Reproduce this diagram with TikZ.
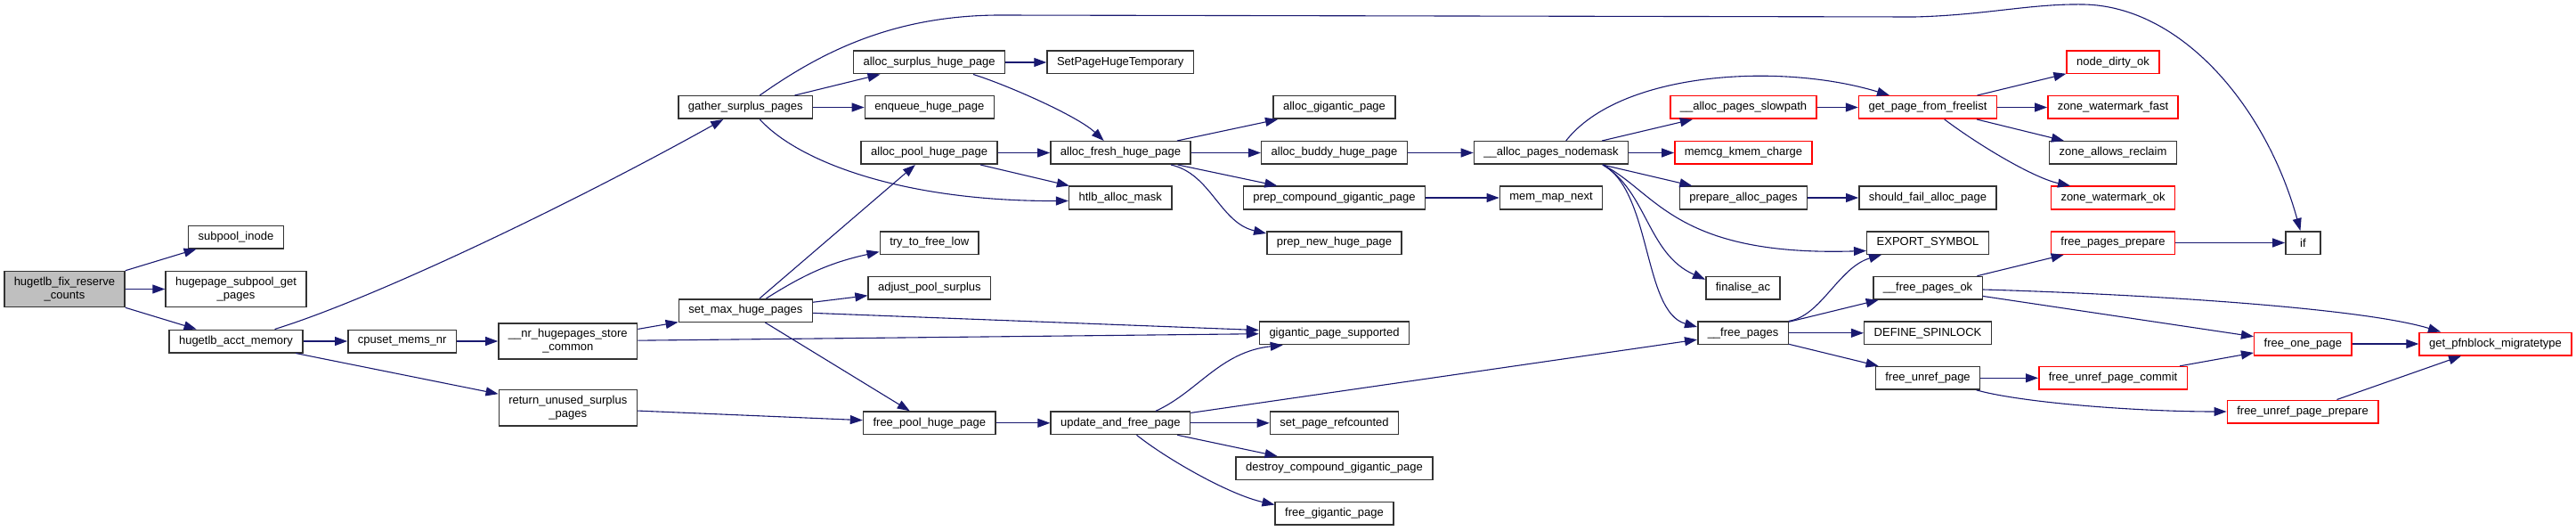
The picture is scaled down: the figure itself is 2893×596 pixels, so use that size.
\documentclass[tikz,border=0pt]{standalone}
\usepackage{fontspec}
\setmainfont{Liberation Sans}
\usetikzlibrary{arrows.meta}
\definecolor{callblue}{RGB}{25,25,112}
\definecolor{boxred}{RGB}{255,0,0}

\begin{document}
\begin{tikzpicture}[x=1pt,y=-1pt,
  fn/.style={draw=black!80,line width=1.5pt,fill=white,font=\fontsize{13}{15}\selectfont,
    align=center,inner xsep=11pt,inner ysep=6.5pt,minimum height=25.5pt,minimum width=39pt},
  fnred/.style={fn,draw=boxred},
  fnroot/.style={fn,fill=black!25},
  call/.style={draw=callblue,line width=1.1pt,-{Triangle[length=14pt,width=10pt]}}]
  \useasboundingbox (0,0) rectangle (2893,596);
  % columna 0 y 1
  \node[fnroot] (fix) at (72.5,324.5) {hugetlb\_fix\_reserve\\\_counts};
  \node[fn] (subinode) at (265,266) {subpool\_inode};
  \node[fn] (subget) at (265,324.5) {hugepage\_subpool\_get\\\_pages};
  \node[fn] (acct) at (265,383) {hugetlb\_acct\_memory};
  % columna 2 y 3
  \node[fn] (cpuset) at (451.7,383) {cpuset\_mems\_nr};
  \node[fn] (nrstore) at (637.8,383) {\_\_nr\_hugepages\_store\\\_common};
  \node[fn] (retsurplus) at (637.8,457.8) {return\_unused\_surplus\\\_pages};
  % columna 4
  \node[fn] (gather) at (837.3,120.5) {gather\_surplus\_pages};
  \node[fn] (setmax) at (837.3,348.5) {set\_max\_huge\_pages};
  % columna 5
  \node[fn] (allocsurplus) at (1043.6,70) {alloc\_surplus\_huge\_page};
  \node[fn] (enqueue) at (1043.8,120.5) {enqueue\_huge\_page};
  \node[fn] (allocpool) at (1043.6,171.5) {alloc\_pool\_huge\_page};
  \node[fn] (freelow) at (1043.7,272.5) {try\_to\_free\_low};
  \node[fn] (adjust) at (1043.9,323.2) {adjust\_pool\_surplus};
  \node[fn] (freepool) at (1043.8,474.8) {free\_pool\_huge\_page};
  % columna 6
  \node[fn] (settemp) at (1258.2,70) {SetPageHugeTemporary};
  \node[fn] (allocfresh) at (1258.5,171.5) {alloc\_fresh\_huge\_page};
  \node[fn] (allocmask) at (1258.2,222) {htlb\_alloc\_mask};
  \node[fn] (updfree) at (1258.3,474.8) {update\_and\_free\_page};
  % columna 7
  \node[fn] (allocgig) at (1498.5,120.5) {alloc\_gigantic\_page};
  \node[fn] (allocbuddy) at (1498.5,171.5) {alloc\_buddy\_huge\_page};
  \node[fn] (prepcomp) at (1498.5,222) {prep\_compound\_gigantic\_page};
  \node[fn] (prepnew) at (1498.5,272.5) {prep\_new\_huge\_page};
  \node[fn] (gigsup) at (1498.5,373.8) {gigantic\_page\_supported};
  \node[fn] (setref) at (1498.5,474.8) {set\_page\_refcounted};
  \node[fn] (destroy) at (1498.5,525.5) {destroy\_compound\_gigantic\_page};
  \node[fn] (freegig) at (1498.5,576.3) {free\_gigantic\_page};
  % columna 8
  \node[fn] (nodemask) at (1742,171.5) {\_\_alloc\_pages\_nodemask};
  \node[fn] (mapnext) at (1742,222) {mem\_map\_next};
  % columna 9
  \node[fnred] (slowpath) at (1958,120.5) {\_\_alloc\_pages\_slowpath};
  \node[fnred] (kmemcharge) at (1958,171.5) {memcg\_kmem\_charge};
  \node[fn] (prepalloc) at (1958,222) {prepare\_alloc\_pages};
  \node[fn] (finalise) at (1957.5,323.2) {finalise\_ac};
  \node[fn] (freepages) at (1957.5,373.8) {\_\_free\_pages};
  % columna 10
  \node[fnred] (freelist) at (2165,120.5) {get\_page\_from\_freelist};
  \node[fn] (shouldfail) at (2165,222) {should\_fail\_alloc\_page};
  \node[fn] (export) at (2165,272.5) {EXPORT\_SYMBOL};
  \node[fn] (pagesok) at (2165,323.2) {\_\_free\_pages\_ok};
  \node[fn] (spinlock) at (2165,373.8) {DEFINE\_SPINLOCK};
  \node[fn] (unref) at (2165,424.3) {free\_unref\_page};
  % columna 11
  \node[fnred] (dirtyok) at (2373,70) {node\_dirty\_ok};
  \node[fnred] (wmfast) at (2373,120.5) {zone\_watermark\_fast};
  \node[fn] (reclaim) at (2373,171.5) {zone\_allows\_reclaim};
  \node[fnred] (wmok) at (2373,222) {zone\_watermark\_ok};
  \node[fnred] (pgprep) at (2373,272.5) {free\_pages\_prepare};
  \node[fnred] (commit) at (2373,424.3) {free\_unref\_page\_commit};
  % columna 12 y 13
  \node[fn] (ifstmt) at (2586.4,272.5) {if};
  \node[fnred] (onepage) at (2586.4,386) {free\_one\_page};
  \node[fnred] (unrefprep) at (2586,462) {free\_unref\_page\_prepare};
  \node[fnred] (migtype) at (2802.5,386) {get\_pfnblock\_migratetype};
  % llamadas
  \draw[call] (fix) -- (subinode);
  \draw[call] (fix) -- (subget);
  \draw[call] (fix) -- (acct);
  \draw[call] ([xshift=43.5pt]acct.north) .. controls (420,335) and (640,230) .. ([xshift=-25pt]gather.south);
  \draw[call] (acct) -- (cpuset);
  \draw[call] (acct) -- (retsurplus);
  \draw[call] (cpuset) -- (nrstore);
  \draw[call] (nrstore) -- (setmax);
  \draw[call] (nrstore) -- (gigsup);
  \draw[call] (retsurplus) -- (freepool);
  \draw[call] (gather) -- (allocsurplus);
  \draw[call] (gather) -- (enqueue);
  \draw[call] ([xshift=16pt]gather.south) .. controls (895,180) and (1010,226) .. ([yshift=-3.5pt]allocmask.west);
  \draw[call] ([xshift=16pt]gather.north) .. controls (920,60) and (1000,18) .. (1120,17) -- (2150,19)
    .. controls (2230,17) and (2280,4) .. (2340,5) .. controls (2450,7) and (2545,120) .. ([xshift=-3pt]ifstmt.north);
  \draw[call] (allocsurplus) -- (settemp);
  \draw[call] ([xshift=49.4pt]allocsurplus.south) .. controls (1130,95) and (1210,130) .. ([xshift=-18.8pt]allocfresh.north);
  \draw[call] (allocpool) -- (allocfresh);
  \draw[call] (allocpool) -- (allocmask);
  \draw[call] (setmax) -- (allocpool);
  \draw[call] (setmax) to[bend left=10] (freelow);
  \draw[call] (setmax) -- (adjust);
  \draw[call] (setmax) -- (gigsup);
  \draw[call] (setmax) -- (freepool);
  \draw[call] (freepool) -- (updfree);
  \draw[call] (allocfresh) -- (allocgig);
  \draw[call] (allocfresh) -- (allocbuddy);
  \draw[call] (allocfresh) -- (prepcomp);
  \draw[call] ([xshift=56.5pt]allocfresh.south) .. controls (1360,195) and (1370,250) .. ([yshift=10.5pt]prepnew.west);
  \draw[call] ([xshift=39.7pt]updfree.north) .. controls (1345,440) and (1370,395) .. ([xshift=-57.8pt]gigsup.south);
  \draw[call] (updfree) -- (freepages);
  \draw[call] (updfree) -- (setref);
  \draw[call] (updfree) -- (destroy);
  \draw[call] ([xshift=18.2pt]updfree.south) .. controls (1310,515) and (1380,555) .. ([yshift=9.8pt]freegig.west);
  \draw[call] (allocbuddy) -- (nodemask);
  \draw[call] (prepcomp) -- (mapnext);
  \draw[call] ([xshift=16.7pt]nodemask.north) .. controls (1820,80) and (2000,70) .. ([xshift=-43pt]freelist.north);
  \draw[call] (nodemask) -- (slowpath);
  \draw[call] (nodemask) -- (kmemcharge);
  \draw[call] (nodemask) -- (prepalloc);
  \draw[call] ([xshift=58pt]nodemask.south) .. controls (1860,215) and (1880,288) .. ([yshift=-9pt]export.west);
  \draw[call] ([xshift=58pt]nodemask.south) .. controls (1850,215) and (1850,285) .. ([yshift=9.5pt]finalise.west);
  \draw[call] ([xshift=58pt]nodemask.south) .. controls (1855,215) and (1845,350) .. ([yshift=6.8pt]freepages.west);
  \draw[call] (slowpath) -- (freelist);
  \draw[call] (prepalloc) -- (shouldfail);
  \draw[call] (freepages.north east) .. controls (2045,355) and (2065,300) .. ([xshift=-52pt]export.south);
  \draw[call] (freepages) -- (pagesok);
  \draw[call] (freepages) -- (spinlock);
  \draw[call] (freepages) -- (unref);
  \draw[call] (freelist) -- (dirtyok);
  \draw[call] (freelist) -- (wmfast);
  \draw[call] (freelist) -- (reclaim);
  \draw[call] ([xshift=18.7pt]freelist.south) .. controls (2225,165) and (2285,200) .. ([xshift=-48pt]wmok.north);
  \draw[call] (pgprep) -- (ifstmt);
  \draw[call] (pagesok) -- (pgprep);
  \draw[call] ([yshift=-1.8pt]pagesok.east) .. controls (2400,330) and (2650,345) .. ([xshift=-61.5pt]migtype.north);
  \draw[call] (pagesok) -- (onepage);
  \draw[call] (unref) -- (commit);
  \draw[call] ([xshift=54.5pt]unref.south) .. controls (2270,452) and (2400,462) .. (unrefprep.west);
  \draw[call] (commit) -- (onepage);
  \draw[call] (onepage) -- (migtype);
  \draw[call] (unrefprep) -- (migtype);
\end{tikzpicture}
\end{document}
